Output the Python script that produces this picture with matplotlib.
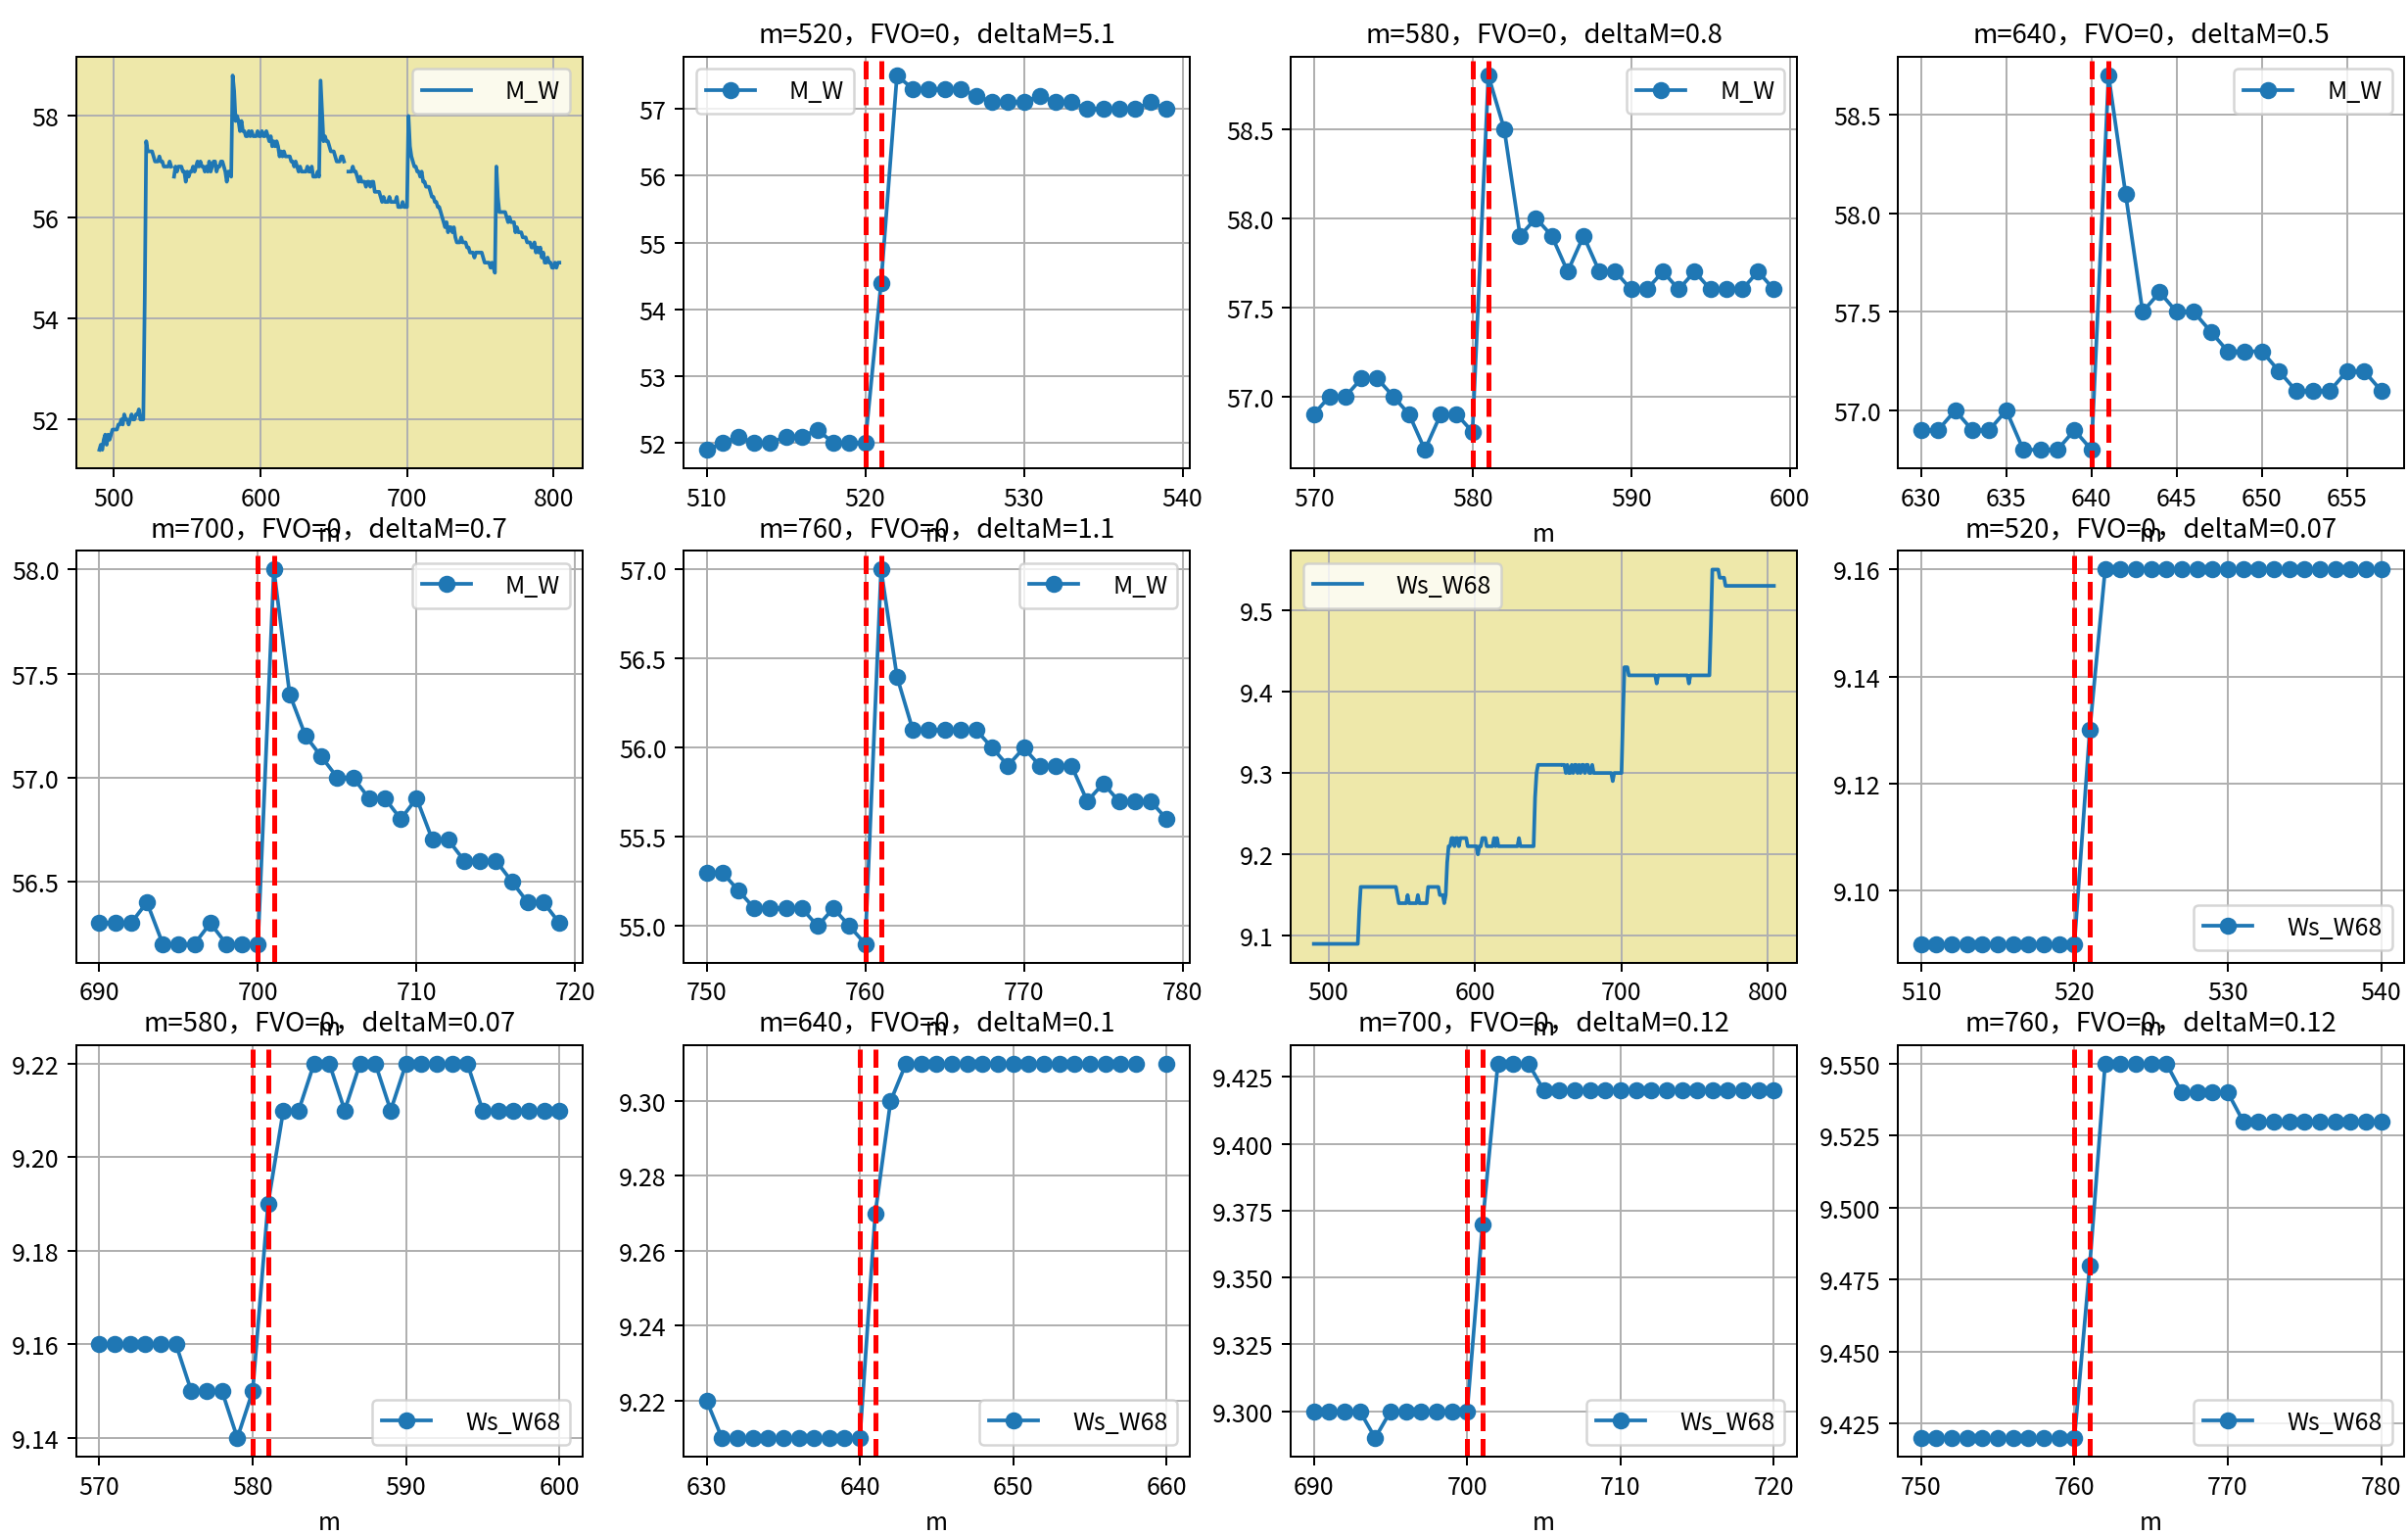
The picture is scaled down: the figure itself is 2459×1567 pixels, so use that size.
import numpy as np
import matplotlib
matplotlib.use('Agg')
import matplotlib.pyplot as plt
from matplotlib.ticker import MaxNLocator

plt.rcParams['font.family'] = ['Noto Sans CJK SC', 'DejaVu Sans']
plt.rcParams['axes.unicode_minus'] = False

nan = np.nan
m_start = 490

M_W = [
    51.4, 51.5, 51.4, 51.6, 51.7, 51.5, 51.7, 51.6, 51.7, 51.8,
    51.8, 51.8, 51.8, 51.9, 51.9, 52.0, 51.9, 52.1, 52.0, 52.0,
    51.9, 52.0, 52.1, 52.0, 52.0, 52.1, 52.1, 52.2, 52.0, 52.0,
    52.0, 54.4, 57.5, 57.3, 57.3, 57.3, 57.3, 57.2, 57.1, 57.1,
    57.1, 57.2, 57.1, 57.1, 57.0, 57.0, 57.0, 57.0, 57.1, 57.0,
    nan, 56.8, 57.0, 56.9, 57.0, 57.0, 57.0, 56.9, 56.9, 56.7,
    56.9, 56.8, 56.9, 56.9, 57.0, 56.9, 57.0, 57.1, 57.0, 57.1,
    57.0, 57.0, 56.9, 57.0, 56.9, 57.1, 56.9, 57.0, 57.1, 57.1,
    56.9, 57.0, 57.0, 57.1, 57.1, 57.0, 56.9, 56.7, 56.9, 56.9,
    56.8, 58.8, 58.5, 57.9, 58.0, 57.9, 57.7, 57.9, 57.7, 57.7,
    57.6, 57.6, 57.7, 57.6, 57.7, 57.6, 57.6, 57.6, 57.7, 57.6,
    57.6, 57.7, 57.6, 57.6, 57.7, 57.6, 57.5, 57.6, 57.4, 57.5,
    57.4, 57.5, 57.4, 57.2, 57.3, 57.2, 57.3, 57.2, 57.2, 57.2,
    57.2, 57.1, 57.1, 57.0, 57.1, 57.0, 56.9, 57.0, 56.9, 56.9,
    56.9, 56.9, 57.0, 56.9, 56.9, 57.0, 56.8, 56.8, 56.8, 56.9,
    56.8, 58.7, 58.1, 57.5, 57.6, 57.5, 57.5, 57.4, 57.3, 57.3,
    57.3, 57.2, 57.1, 57.1, 57.1, 57.2, 57.2, 57.1, nan, nan,
    56.9, 56.9, 56.9, 57.0, 56.9, 56.9, 56.8, 56.7, 56.8, 56.7,
    56.7, 56.7, 56.6, 56.7, 56.7, 56.6, 56.7, 56.7, 56.5, 56.5,
    56.5, 56.5, 56.4, 56.3, 56.4, 56.3, 56.3, 56.3, 56.4, 56.3,
    56.3, 56.3, 56.3, 56.4, 56.2, 56.2, 56.2, 56.3, 56.2, 56.2,
    56.2, 58.0, 57.4, 57.2, 57.1, 57.0, 57.0, 56.9, 56.9, 56.8,
    56.9, 56.7, 56.7, 56.6, 56.6, 56.6, 56.5, 56.4, 56.4, 56.3,
    56.3, 56.2, 56.2, 56.1, 56.0, 55.9, 55.8, 55.9, 55.7, 55.8,
    55.8, 55.7, 55.8, 55.6, 55.5, 55.5, 55.5, 55.6, 55.5, 55.5,
    55.5, 55.4, 55.4, 55.3, 55.3, 55.3, 55.2, 55.3, 55.3, 55.3,
    55.3, 55.3, 55.2, 55.1, 55.1, 55.1, 55.1, 55.0, 55.1, 55.0,
    54.9, 57.0, 56.4, 56.1, 56.1, 56.1, 56.1, 56.1, 56.0, 55.9,
    56.0, 55.9, 55.9, 55.9, 55.7, 55.8, 55.7, 55.7, 55.7, 55.6,
    55.6, 55.6, 55.5, 55.5, 55.5, 55.4, 55.4, 55.5, 55.3, 55.4,
    55.3, 55.4, 55.2, 55.3, 55.1, 55.1, 55.2, 55.1, 55.1, 55.0,
    55.0, 55.1, 55.0, 55.1, 55.1,
]

# Ws_W68, same m range
Ws_W68 = (
    [9.09] * 30
    + [9.09, 9.13] + [9.16] * 8
    + [9.16] * 10
    + [9.16] * 7 + [9.15, 9.14, 9.14]
    + [9.14, 9.14, 9.14, 9.14, 9.15, 9.14, 9.14, 9.14, 9.14, 9.14]
    + [9.14, 9.15, 9.14, 9.14, 9.14, 9.14, 9.14, 9.14, 9.16, 9.16]
    + [9.16] * 6 + [9.15, 9.15, 9.15, 9.14]
    + [9.15, 9.19, 9.21, 9.21, 9.22, 9.22, 9.21, 9.22, 9.22, 9.21]
    + [9.22] * 5 + [9.21] * 5
    + [9.21, 9.21, 9.20, 9.21, 9.21, 9.22, 9.22, 9.22, 9.21, 9.21]
    + [9.21, 9.21, 9.21, 9.22, 9.21, 9.22, 9.21, 9.21, 9.21, 9.21]
    + [9.21] * 10
    + [9.22] + [9.21] * 9
    + [9.21, 9.27, 9.30] + [9.31] * 7
    + [9.31] * 9 + [nan]
    + [9.31, 9.31, 9.30, 9.31, 9.30, 9.30, 9.31, 9.30, 9.31, 9.31]
    + [9.30, 9.31, 9.30, 9.31, 9.31, 9.30, 9.31, 9.31, 9.30, 9.30]
    + [9.31] + [9.30] * 9
    + [9.30] * 4 + [9.29] + [9.30] * 5
    + [9.30, 9.37, 9.43, 9.43, 9.43] + [9.42] * 5
    + [9.42] * 10
    + [9.42] * 4 + [9.41] + [9.42] * 5
    + [9.42] * 10
    + [9.42] * 6 + [9.41] + [9.42] * 3
    + [9.42] * 10
    + [9.42, 9.48] + [9.55] * 5 + [9.54] * 3
    + [9.54] + [9.53] * 9
    + [9.53] * 25
)

events = [520, 580, 640, 700, 760]
dM_M_W = ['5.1', '0.8', '0.5', '0.7', '1.1']
dM_Ws = ['0.07', '0.07', '0.1', '0.12', '0.12']

m = np.arange(m_start, m_start + len(M_W))
series = {'M_W': np.array(M_W, dtype=float), 'Ws_W68': np.array(Ws_W68, dtype=float)}

# (column, event or None, deltaM text, window end offset, legend loc)
panels = [('M_W', None, None, None, 'upper right')]
for e, d in zip(events, dM_M_W):
    panels.append(('M_W', e, d, 19, 'upper left' if e == 520 else 'upper right'))
panels.append(('Ws_W68', None, None, None, 'upper left'))
for e, d in zip(events, dM_Ws):
    panels.append(('Ws_W68', e, d, 20, 'lower right'))

fig, axes = plt.subplots(3, 4, figsize=(2459 / 180, 1568 / 180))
fig.subplots_adjust(left=0.0317, right=0.9984, bottom=0.051, top=0.9624,
                    wspace=0.2, hspace=0.2)

for ax, (name, ev, dm, end, loc) in zip(axes.flat, panels):
    y = series[name]
    if ev is None:
        ax.plot(m, y, label=name)
        ax.set_facecolor('palegoldenrod')
    else:
        sel = (m >= ev - 10) & (m <= ev + end)
        ax.plot(m[sel], y[sel], 'o-', label=name)
        ax.axvline(ev, color='r', linestyle='--', lw=2)
        ax.axvline(ev + 1, color='r', linestyle='--', lw=2)
        ax.set_title(f'm={ev}，FVO=0，deltaM={dm}', fontsize=11)
    ax.yaxis.set_major_locator(MaxNLocator(nbins=7, steps=[1, 2, 2.5, 5, 10]))
    ax.set_xlabel('m')
    ax.grid(True)
    ax.legend(loc=loc, handletextpad=1.4)

plt.savefig('out.png', dpi=180)
